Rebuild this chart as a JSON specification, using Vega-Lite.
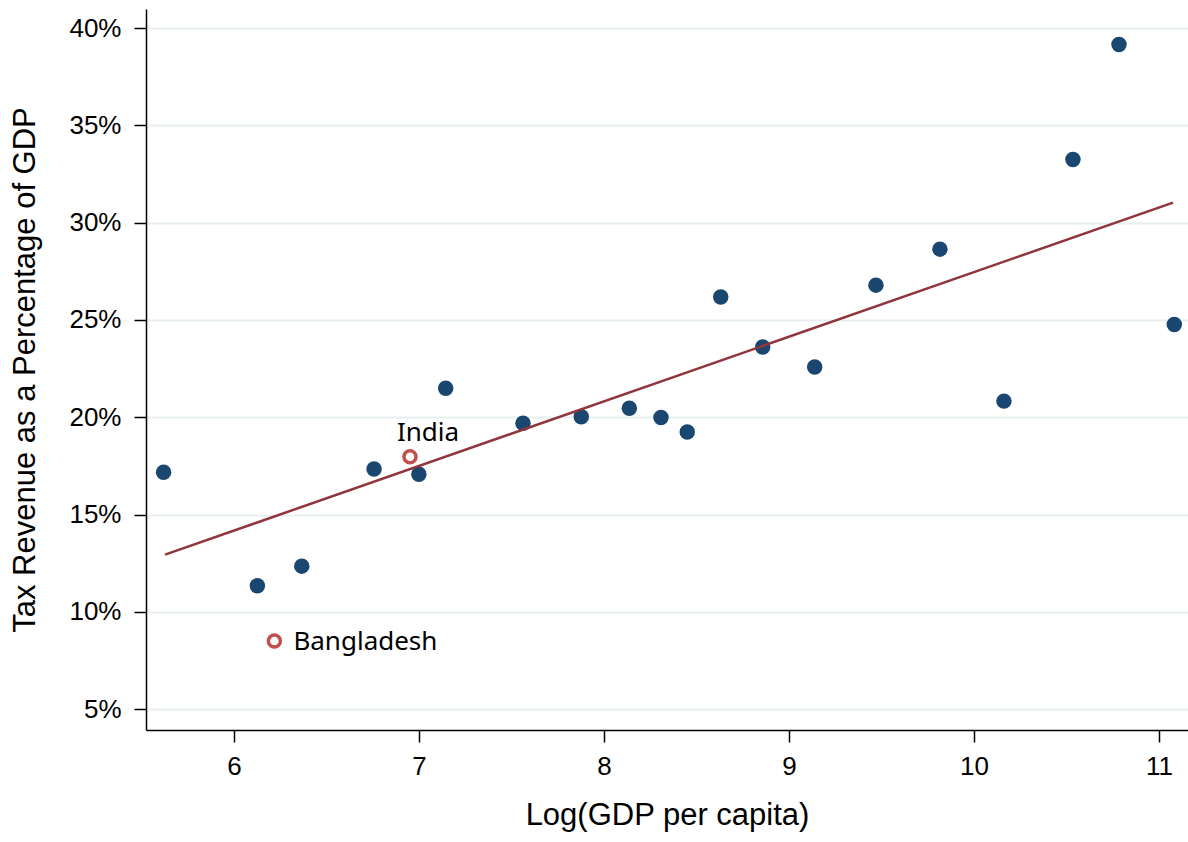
{
  "$schema": "https://vega.github.io/schema/vega-lite/v6.json",
  "autosize": "none",
  "width": 1042,
  "height": 721,
  "padding": {"left": 146, "top": 9, "right": 0, "bottom": 112},
  "background": "white",
  "config": {
    "view": {"stroke": null},
    "axis": {
      "labelFont": "Liberation Sans",
      "titleFont": "Liberation Sans",
      "labelFontSize": 26,
      "titleFontSize": 31,
      "titleFontWeight": "normal",
      "labelColor": "#000000",
      "titleColor": "#000000",
      "domainColor": "#000000",
      "domainWidth": 1.5,
      "tickColor": "#000000",
      "tickWidth": 1.5,
      "tickSize": 12
    }
  },
  "datasets": {
    "countries": [
      {"x": 5.619, "y": 0.1717, "country": "", "group": "other"},
      {"x": 6.126, "y": 0.1134, "country": "", "group": "other"},
      {"x": 6.366, "y": 0.1235, "country": "", "group": "other"},
      {"x": 6.757, "y": 0.1734, "country": "", "group": "other"},
      {"x": 6.999, "y": 0.1707, "country": "", "group": "other"},
      {"x": 7.144, "y": 0.2149, "country": "", "group": "other"},
      {"x": 7.562, "y": 0.1969, "country": "", "group": "other"},
      {"x": 7.877, "y": 0.2003, "country": "", "group": "other"},
      {"x": 8.137, "y": 0.2046, "country": "", "group": "other"},
      {"x": 8.308, "y": 0.1999, "country": "", "group": "other"},
      {"x": 8.450, "y": 0.1924, "country": "", "group": "other"},
      {"x": 8.631, "y": 0.2618, "country": "", "group": "other"},
      {"x": 8.858, "y": 0.2361, "country": "", "group": "other"},
      {"x": 9.139, "y": 0.2258, "country": "", "group": "other"},
      {"x": 9.470, "y": 0.2679, "country": "", "group": "other"},
      {"x": 9.816, "y": 0.2864, "country": "", "group": "other"},
      {"x": 10.162, "y": 0.2083, "country": "", "group": "other"},
      {"x": 10.535, "y": 0.3325, "country": "", "group": "other"},
      {"x": 10.784, "y": 0.3916, "country": "", "group": "other"},
      {"x": 11.083, "y": 0.2477, "country": "", "group": "other"},
      {"x": 6.951, "y": 0.1797, "country": "India", "group": "highlight"},
      {"x": 6.218, "y": 0.0850, "country": "Bangladesh", "group": "highlight"}
    ],
    "fit": [
      {"x": 5.627, "y": 0.1294},
      {"x": 11.076, "y": 0.3103}
    ]
  },
  "encoding": {
    "x": {
      "field": "x",
      "type": "quantitative",
      "scale": {"domain": [5.524, 11.157], "zero": false, "nice": false},
      "axis": {
        "title": "Log(GDP per capita)",
        "values": [6, 7, 8, 9, 10, 11],
        "grid": false,
        "labelPadding": 11,
        "titlePadding": 21
      }
    },
    "y": {
      "field": "y",
      "type": "quantitative",
      "scale": {"domain": [0.0393, 0.4098], "zero": false, "nice": false},
      "axis": {
        "title": "Tax Revenue as a Percentage of GDP",
        "values": [0.05, 0.1, 0.15, 0.2, 0.25, 0.3, 0.35, 0.4],
        "format": ".0%",
        "grid": true,
        "gridColor": "#e8eff1",
        "gridWidth": 2,
        "labelPadding": 13,
        "titlePadding": 27
      }
    }
  },
  "layer": [
    {
      "data": {"name": "countries"},
      "transform": [{"filter": "datum.group === 'other'"}],
      "mark": {"type": "point", "shape": "circle", "filled": true, "size": 240, "color": "#1a476f", "opacity": 1}
    },
    {
      "data": {"name": "fit"},
      "mark": {"type": "line", "color": "#90353b", "strokeWidth": 2.5},
      "encoding": {}
    },
    {
      "data": {"name": "countries"},
      "transform": [{"filter": "datum.group === 'highlight'"}],
      "mark": {"type": "point", "shape": "circle", "filled": false, "size": 145, "strokeWidth": 3.5, "color": "#c0504d", "opacity": 1}
    },
    {
      "data": {"name": "countries"},
      "transform": [{"filter": "datum.country === 'India'"}],
      "mark": {"type": "text", "font": "Noto Sans", "fontSize": 26, "color": "#000000", "align": "left", "baseline": "alphabetic", "dx": -13, "dy": -16},
      "encoding": {"text": {"field": "country"}}
    },
    {
      "data": {"name": "countries"},
      "transform": [{"filter": "datum.country === 'Bangladesh'"}],
      "mark": {"type": "text", "font": "Noto Sans", "fontSize": 26, "color": "#000000", "align": "left", "baseline": "alphabetic", "dx": 19, "dy": 9},
      "encoding": {"text": {"field": "country"}}
    }
  ]
}
